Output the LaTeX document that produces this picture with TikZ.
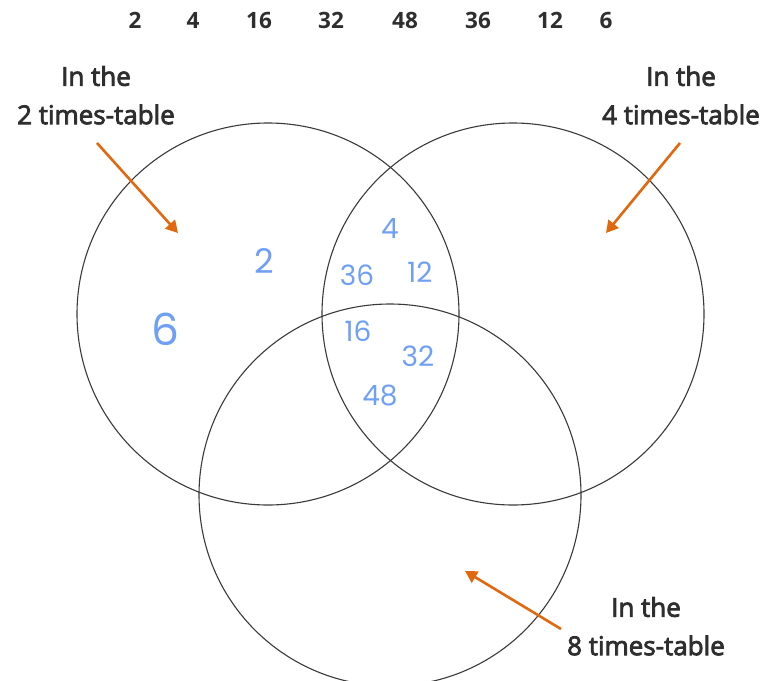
\documentclass[tikz,border=0pt]{standalone}
\usepackage{fontspec}
\setmainfont{Open Sans}
\newfontfamily\labelfont{Open Sans}[FakeBold=3]
\newfontfamily\handfont{Poppins}
\usetikzlibrary{positioning, arrows.meta}
\definecolor{vennline}{HTML}{3A3A3A}
\definecolor{pointer}{HTML}{E2680F}
\definecolor{penblue}{HTML}{6FA0F5}
\definecolor{labeltext}{HTML}{2E2E2E}

\begin{document}
\begin{tikzpicture}[x=1pt, y=-1pt,
    set/.style={draw=vennline, line width=1.1pt, circle, minimum size=382pt, inner sep=0pt},
    caption/.style={text=labeltext, font=\labelfont\fontsize{26}{28}\selectfont, inner sep=1pt},
    pick/.style={text=labeltext, font=\bfseries\fontsize{22.5}{24}\selectfont, inner sep=1pt},
    penned/.style={text=penblue, font=\handfont\fontsize{28}{30}\selectfont, inner sep=0pt},
    pointto/.style={draw=pointer, line width=2.6pt, -{Triangle[length=12pt, width=13pt]}}]
\useasboundingbox (0,0) rectangle (776,680);

% the numbers to sort
\foreach \num/\xpos in {2/135, 4/193, 16/259, 32/331, 48/405, 36/478, 12/550, 6/606}
    \node[pick] (top\num) at (\xpos,20) {\num};

% the three sets
\node[set] (two) at (268,314) {};
\node[set] (four) at (513,314) {};
\node[set] (eight) at (390,495) {};

% set labels
\node[caption] (twoA) at (96,76) {In the};
\node[caption, below=16pt of twoA] (twoB) {2 times-table};
\node[caption] (fourA) at (681,76) {In the};
\node[caption, below=16pt of fourA] (fourB) {4 times-table};
\node[caption] (eightA) at (646,607) {In the};
\node[caption, below=16pt of eightA] (eightB) {8 times-table};

% pointers
\coordinate (twoS) at (97,143);
\coordinate (twoT) at (178,233);
\coordinate (fourS) at (680,143);
\coordinate (fourT) at (606,233);
\coordinate (eightS) at (561,629);
\coordinate (eightT) at (465,571);
\draw[pointto] (twoS) -- (twoT);
\draw[pointto] (fourS) -- (fourT);
\draw[pointto] (eightS) -- (eightT);

% the answers
\node[penned, font=\handfont\fontsize{34}{36}\selectfont] (w2) at (264,261) {2};
\node[penned, font=\handfont\fontsize{44}{46}\selectfont] (w6) at (165,329) {6};
\node[penned] (w4) at (390,228) {4};
\node[penned] (w36) at (357,275) {36};
\node[penned] (w12) at (420,272) {12};
\node[penned] (w16) at (358,331) {16};
\node[penned] (w32) at (418,356) {32};
\node[penned] (w48) at (380,395) {48};
\end{tikzpicture}
\end{document}
